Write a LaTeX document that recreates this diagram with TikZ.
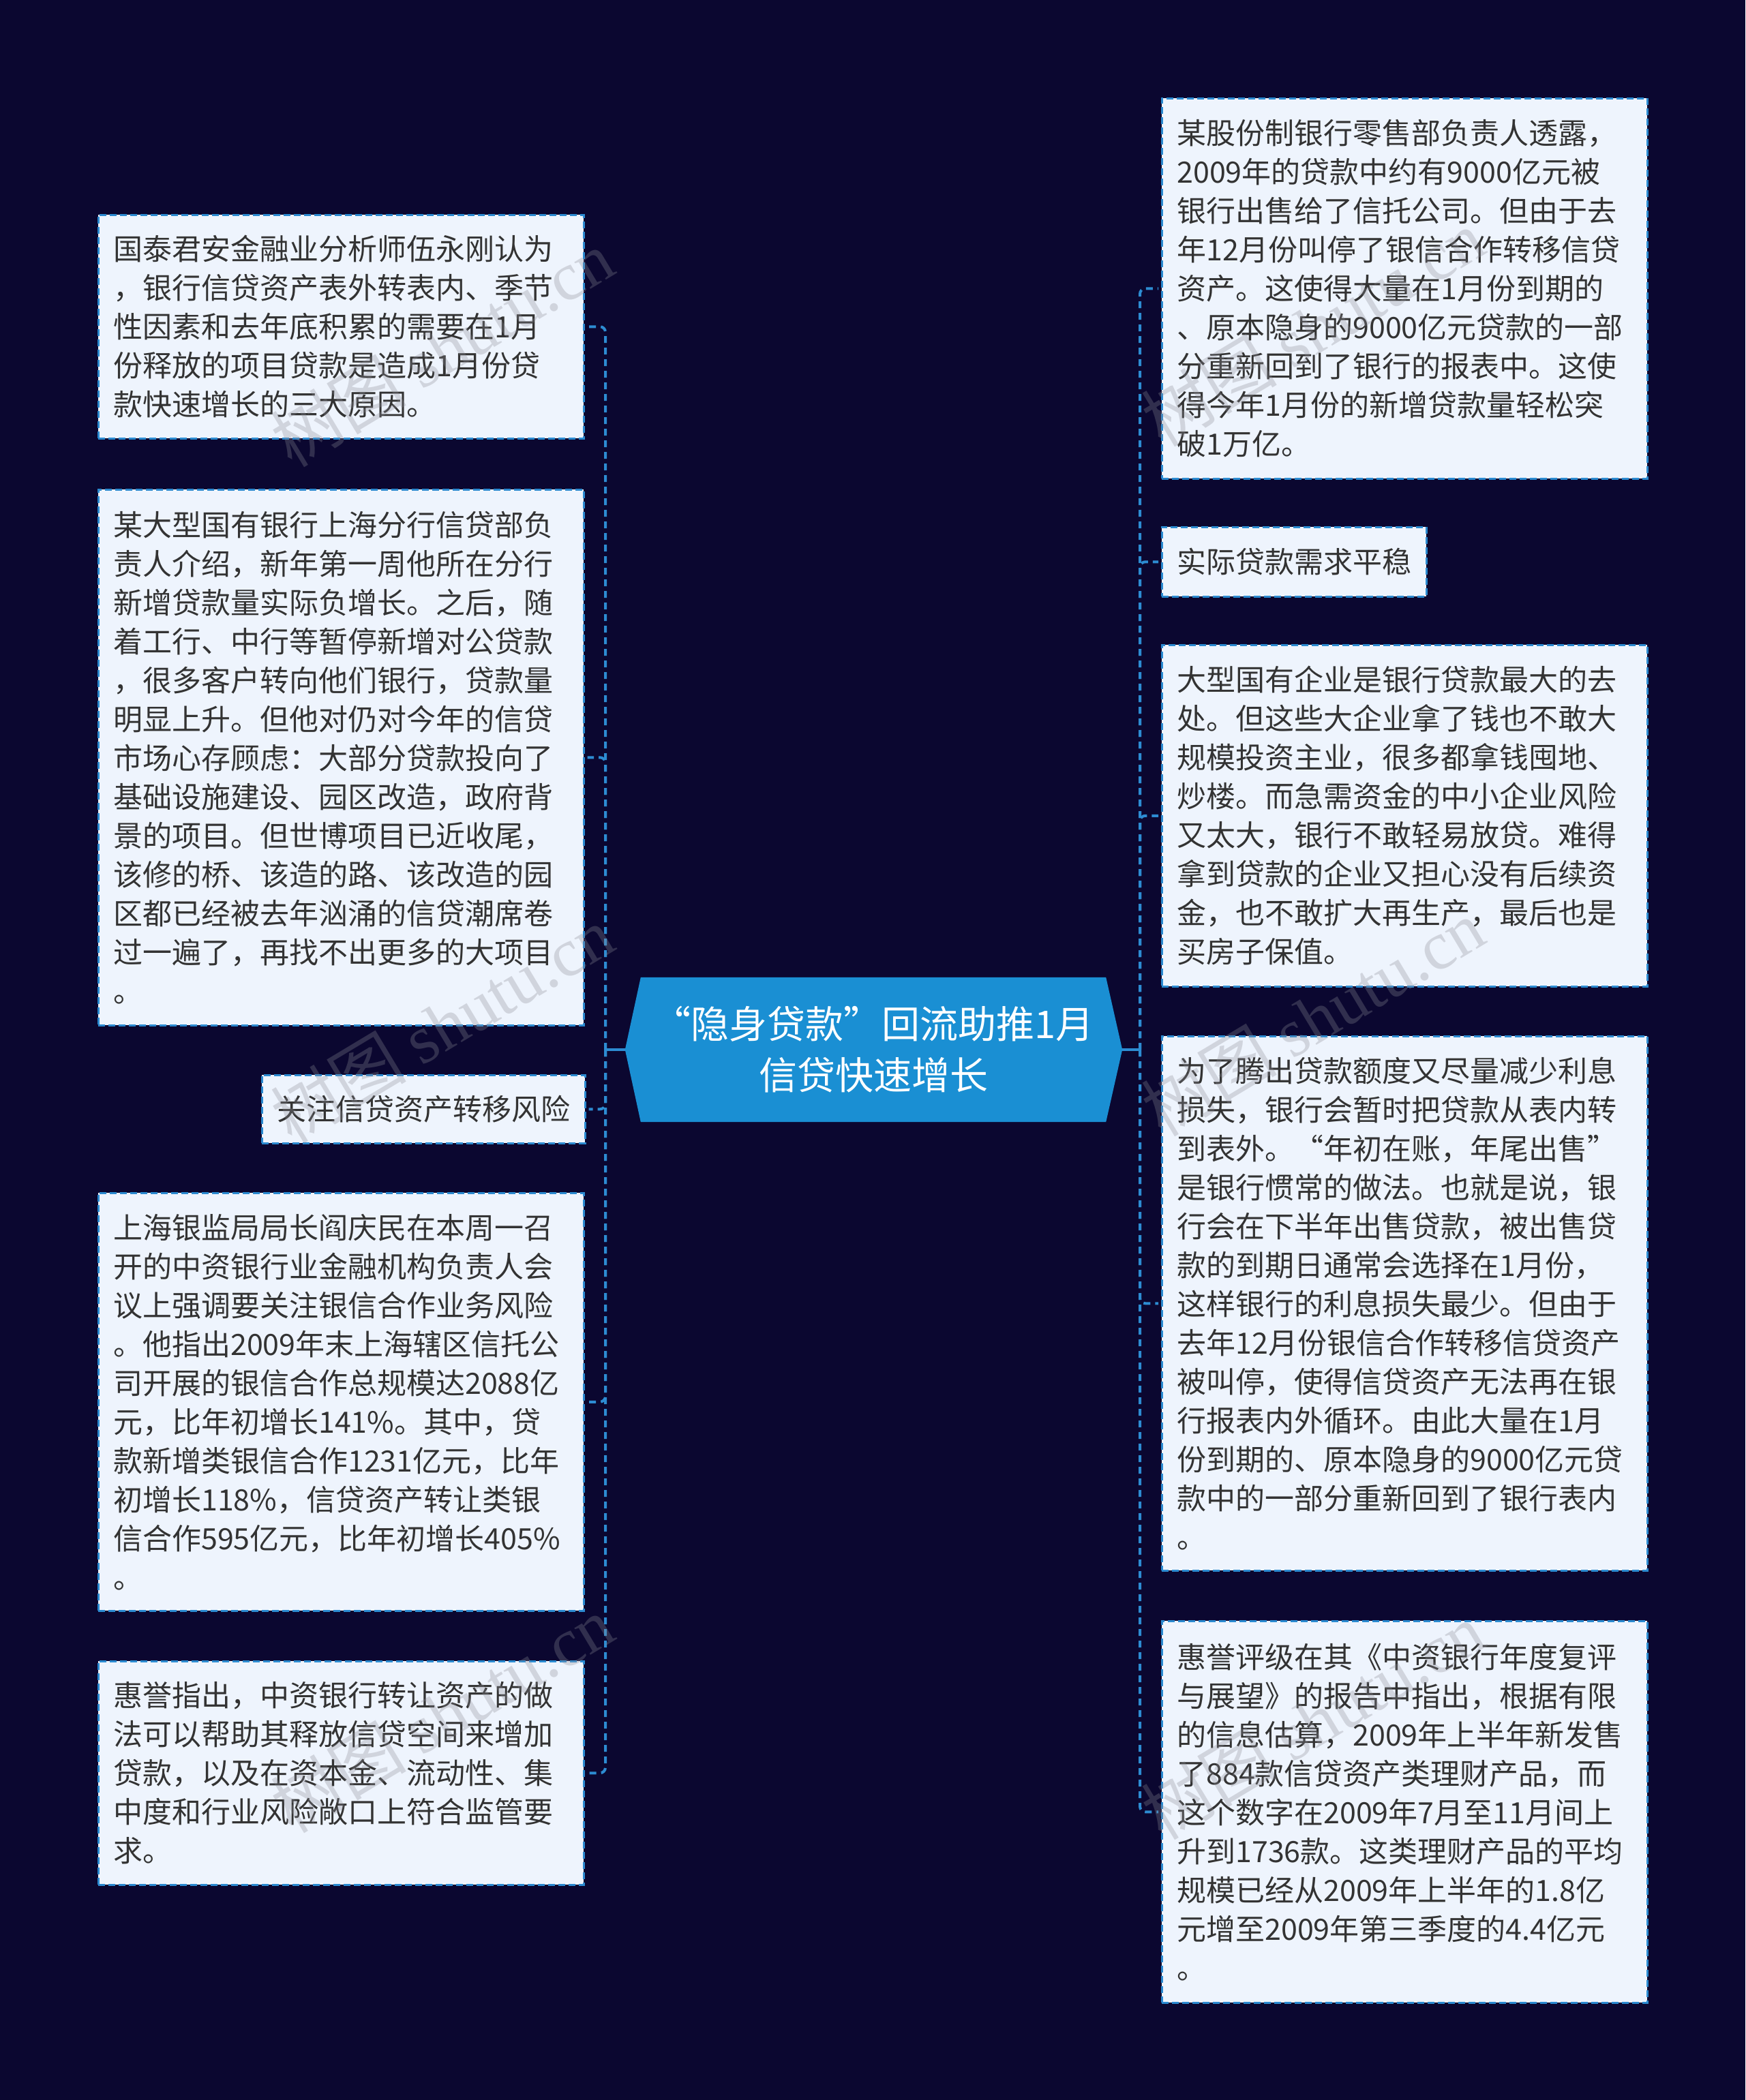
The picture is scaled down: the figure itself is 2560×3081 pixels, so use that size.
\documentclass[tikz,border=0pt]{standalone}
\usepackage{fontspec}
\setmainfont{Noto Sans CJK SC}
\newfontfamily\wmfont{Liberation Serif}
\definecolor{bgc}{HTML}{0B0730}
\definecolor{boxfill}{HTML}{EEF4FD}
\definecolor{boxline}{HTML}{2B8AD0}
\definecolor{cfill}{HTML}{1A8FD3}
\definecolor{conncol}{HTML}{2D8CD2}
\definecolor{txt}{HTML}{333333}
\definecolor{wmcol}{HTML}{8C8C96}
\pgfdeclarelayer{back}
\pgfsetlayers{back,main}
\tikzset{
  box/.style={draw=boxline, fill=boxfill, line width=2.5pt, dash pattern=on 10pt off 5pt,
    inner xsep=22pt, inner ysep=0pt, anchor=north west, text=txt,
    font=\fontsize{43}{57}\selectfont},
  wide/.style={text width=668pt, align=left, minimum width=712pt},
  conn/.style={draw=conncol, line width=4pt, dash pattern=on 10pt off 7pt, rounded corners=8pt, shorten >=4pt},
  trunk/.style={draw=conncol, line width=4pt},
  centernode/.style={minimum width=682pt, minimum height=212pt, inner sep=0pt, text=white,
    align=center, font=\fontsize{56}{75}\selectfont},
  wm/.style={text=wmcol, opacity=0.3, rotate=31, font=\fontsize{100}{100}\selectfont}
}
\begin{document}
\begin{tikzpicture}[x=1pt,y=-1pt]
\begin{pgfonlayer}{back}
\fill[bgc] (0,0) rectangle (2560,3081);
\end{pgfonlayer}
\useasboundingbox (0,0) rectangle (2560,3081);

% center node
\node[centernode] (c) at (1281,1540) {“隐身贷款”回流助推1月\\信贷快速增长};
\begin{pgfonlayer}{back}
\fill[cfill] (c.north west) -- (c.north east) -- ([xshift=24pt]c.east) -- (c.south east)
  -- (c.south west) -- ([xshift=-23pt]c.west) -- cycle;
\end{pgfonlayer}
\coordinate (cl) at ([xshift=-23pt]c.west);
\coordinate (cr) at ([xshift=24pt]c.east);
\coordinate (tl) at (888,1540);
\coordinate (tr) at (1672,1540);

% left boxes
\node[box, wide, minimum height=328pt] (l1) at (143,314) {国泰君安金融业分析师伍永刚认为\\，银行信贷资产表外转表内、季节\\性因素和去年底积累的需要在1月\\份释放的项目贷款是造成1月份贷\\款快速增长的三大原因。};
\node[box, wide, minimum height=786pt] (l2) at (143,717) {某大型国有银行上海分行信贷部负\\责人介绍，新年第一周他所在分行\\新增贷款量实际负增长。之后，随\\着工行、中行等暂停新增对公贷款\\，很多客户转向他们银行，贷款量\\明显上升。但他对仍对今年的信贷\\市场心存顾虑：大部分贷款投向了\\基础设施建设、园区改造，政府背\\景的项目。但世博项目已近收尾，\\该修的桥、该造的路、该改造的园\\区都已经被去年汹涌的信贷潮席卷\\过一遍了，再找不出更多的大项目\\。};
\node[box, minimum width=472pt, minimum height=100pt] (l3) at (383,1576) {关注信贷资产转移风险};
\node[box, wide, minimum height=613pt] (l4) at (143,1749) {上海银监局局长阎庆民在本周一召\\开的中资银行业金融机构负责人会\\议上强调要关注银信合作业务风险\\。他指出2009年末上海辖区信托公\\司开展的银信合作总规模达2088亿\\元，比年初增长141\%。其中，贷\\款新增类银信合作1231亿元，比年\\初增长118\%，信贷资产转让类银\\信合作595亿元，比年初增长405\%\\。};
\node[box, wide, minimum height=328pt] (l5) at (143,2436) {惠誉指出，中资银行转让资产的做\\法可以帮助其释放信贷空间来增加\\贷款，以及在资本金、流动性、集\\中度和行业风险敞口上符合监管要\\求。};

% right boxes
\node[box, wide, minimum height=558pt] (r1) at (1703,143) {某股份制银行零售部负责人透露，\\2009年的贷款中约有9000亿元被\\银行出售给了信托公司。但由于去\\年12月份叫停了银信合作转移信贷\\资产。这使得大量在1月份到期的\\、原本隐身的9000亿元贷款的一部\\分重新回到了银行的报表中。这使\\得今年1月份的新增贷款量轻松突\\破1万亿。};
\node[box, minimum width=387pt, minimum height=102pt] (r2) at (1703,772) {实际贷款需求平稳};
\node[box, wide, minimum height=501pt] (r3) at (1703,945) {大型国有企业是银行贷款最大的去\\处。但这些大企业拿了钱也不敢大\\规模投资主业，很多都拿钱囤地、\\炒楼。而急需资金的中小企业风险\\又太大，银行不敢轻易放贷。难得\\拿到贷款的企业又担心没有后续资\\金，也不敢扩大再生产，最后也是\\买房子保值。};
\node[box, wide, minimum height=784pt] (r4) at (1703,1519) {为了腾出贷款额度又尽量减少利息\\损失，银行会暂时把贷款从表内转\\到表外。“年初在账，年尾出售”\\是银行惯常的做法。也就是说，银\\行会在下半年出售贷款，被出售贷\\款的到期日通常会选择在1月份，\\这样银行的利息损失最少。但由于\\去年12月份银信合作转移信贷资产\\被叫停，使得信贷资产无法再在银\\行报表内外循环。由此大量在1月\\份到期的、原本隐身的9000亿元贷\\款中的一部分重新回到了银行表内\\。};
\node[box, wide, minimum height=560pt] (r5) at (1703,2377) {惠誉评级在其《中资银行年度复评\\与展望》的报告中指出，根据有限\\的信息估算，2009年上半年新发售\\了884款信贷资产类理财产品，而\\这个数字在2009年7月至11月间上\\升到1736款。这类理财产品的平均\\规模已经从2009年上半年的1.8亿\\元增至2009年第三季度的4.4亿元\\。};

% connectors
\draw[trunk] (cl) -- (tl);
\draw[trunk] (cr) -- (tr);
\foreach \b in {l1,l2,l3,l4,l5} {\draw[conn] (tl) |- (\b.east);}
\foreach \b in {r1,r2,r3,r4,r5} {\draw[conn] (tr) |- (\b.west);}

% watermarks
\node[wm] (wm1) at (648,511) {树图 \wmfont shutu.cn};
\node[wm] (wm2) at (648,1503) {树图 \wmfont shutu.cn};
\node[wm] (wm3) at (648,2515) {树图 \wmfont shutu.cn};
\node[wm] (wm4) at (1925,481) {树图 \wmfont shutu.cn};
\node[wm] (wm5) at (1925,1493) {树图 \wmfont shutu.cn};
\node[wm] (wm6) at (1925,2525) {树图 \wmfont shutu.cn};
\end{tikzpicture}
\end{document}
